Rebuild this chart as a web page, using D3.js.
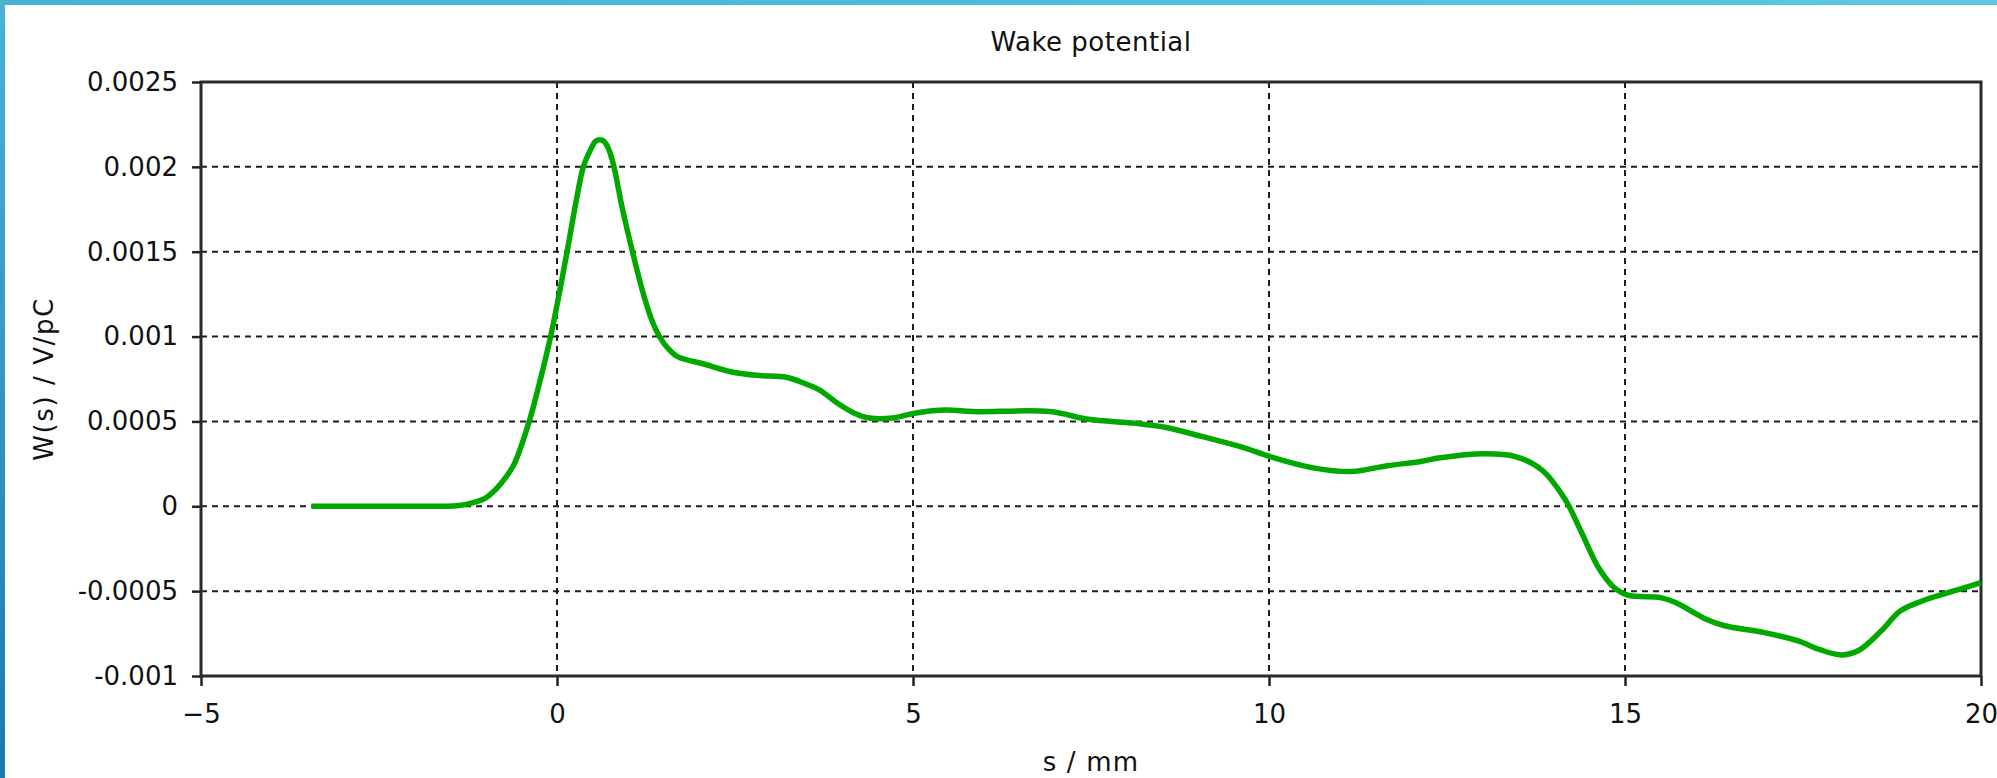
<!DOCTYPE html>
<html>
<head>
<meta charset="utf-8">
<script src="https://cdn.jsdelivr.net/npm/d3@7"></script>
<style>
  html, body { margin: 0; padding: 0; background: #fff; overflow: hidden; }
  text { font-family: "DejaVu Sans", Verdana, sans-serif; fill: #111; }
</style>
</head>
<body>
<script>
// wake potential samples
const sValues = [-3.45, -3.0, -2.5, -2.0, -1.6, -1.4, -1.19, -1.0, -0.86, -0.72, -0.6, -0.39, -0.25, -0.1, 0.03,
    0.15, 0.27, 0.37, 0.47, 0.54, 0.6, 0.66, 0.73, 0.8, 0.92, 1.06, 1.2, 1.32, 1.44, 1.56, 1.7, 2.05, 2.47,
    2.85, 3.22, 3.5, 3.69, 3.93, 4.17, 4.39, 4.71, 5.04, 5.47, 5.84, 6.92, 7.46, 8.1, 8.54, 9.07, 9.61,
    10.04, 10.64, 11.17, 11.66, 12.13, 12.38, 13.03, 13.46, 13.83, 14.16, 14.37, 14.64, 14.85, 15.04, 15.5,
    15.71, 16.14, 16.4, 16.94, 17.42, 17.74, 18.04, 18.28, 18.6, 18.87, 19.24, 19.62, 20.0];
const wValues = [0, 0, 0, 0, 0, 0.000003, 0.00002, 0.00005, 0.0001, 0.00017, 0.00025, 0.0005, 0.00072, 0.00098,
    0.00125, 0.00152, 0.0018, 0.002, 0.0021, 0.00215, 0.00216, 0.00215, 0.0021, 0.002, 0.00175, 0.0015,
    0.00127, 0.00111, 0.001, 0.00093, 0.00088, 0.00084, 0.00079, 0.00077, 0.00076, 0.00072, 0.000685,
    0.00061, 0.00055, 0.00052, 0.00052, 0.00055, 0.000567, 0.000558, 0.000558, 0.000513, 0.00049, 0.000466,
    0.00041, 0.00035, 0.00029, 0.000225, 0.000205, 0.000239, 0.000264, 0.000284, 0.000309, 0.000293,
    0.000215, 0.00004, -0.000137, -0.00037, -0.00048, -0.000524, -0.000538, -0.000567, -0.000665,
    -0.000704, -0.000743, -0.000792, -0.000845, -0.000876, -0.00085, -0.000734, -0.000616, -0.000548,
    -0.000499, -0.00045];

const xTicks = [-5, 0, 5, 10, 15, 20];
const yTicks = [-0.001, -0.0005, 0, 0.0005, 0.001, 0.0015, 0.002, 0.0025];
const yTickLabels = ["-0.001", "-0.0005", "0", "0.0005", "0.001", "0.0015", "0.002", "0.0025"];

const titleText = "Wake potential";
const xLabel = "s / mm";
const yLabel = "W(s) / V/pC";

const options = {
    width: 1997,
    height: 778,
    left: 201,
    right: 1981,
    top: 82,
    bottom: 676,
}

const points = sValues.map((s, i) => ({ s: s, w: wValues[i] }));

let svg = d3.select("body")
    .append("svg")
    .attr("width", options.width)
    .attr("height", options.height)

// window frame strips
let defs = svg.append("defs")
let gTop = defs.append("linearGradient").attr("id", "topBar")
gTop.append("stop").attr("offset", "0%").attr("stop-color", "#46b0d6")
gTop.append("stop").attr("offset", "100%").attr("stop-color", "#5cc6e4")
let gLeft = defs.append("linearGradient").attr("id", "leftBar")
    .attr("x1", 0).attr("y1", 0).attr("x2", 0).attr("y2", 1)
gLeft.append("stop").attr("offset", "0%").attr("stop-color", "#48b2d8")
gLeft.append("stop").attr("offset", "100%").attr("stop-color", "#1f78b0")

svg.append("rect").attr("x", 0).attr("y", 0).attr("width", options.width).attr("height", 5)
    .style("fill", "url(#topBar)")
svg.append("rect").attr("x", 0).attr("y", 0).attr("width", 5).attr("height", options.height)
    .style("fill", "url(#leftBar)")

const x = d3.scaleLinear().domain([-5, 20]).range([options.left, options.right]);
const y = d3.scaleLinear().domain([-0.001, 0.0025]).range([options.bottom, options.top]);

// grid
let grid = svg.append("g")
grid.selectAll(".vgrid")
    .data(xTicks.slice(1, -1))
    .enter()
    .append("line")
    .attr("x1", d => x(d)).attr("x2", d => x(d))
    .attr("y1", options.top).attr("y2", options.bottom)
    .style("stroke", "#1e1e1e").style("stroke-width", 2).style("stroke-dasharray", "6,5")
grid.selectAll(".hgrid")
    .data(yTicks.slice(1, -1))
    .enter()
    .append("line")
    .attr("x1", options.left).attr("x2", options.right)
    .attr("y1", d => y(d)).attr("y2", d => y(d))
    .style("stroke", "#1e1e1e").style("stroke-width", 2).style("stroke-dasharray", "6,5")

// axes
let xAxis = svg.append("g")
    .attr("transform", `translate(0,${options.bottom})`)
    .call(d3.axisBottom(x).tickValues(xTicks).tickSize(10).tickPadding(19).tickFormat(d3.format("d")))
let yAxis = svg.append("g")
    .attr("transform", `translate(${options.left},0)`)
    .call(d3.axisLeft(y).tickValues(yTicks).tickSize(9).tickPadding(14).tickFormat((d, i) => yTickLabels[i]))

;[xAxis, yAxis].forEach(a => {
    a.select(".domain").remove()
    a.selectAll(".tick line").style("stroke", "#222").style("stroke-width", 2.5)
    a.selectAll(".tick text").style("font-size", "26px").style("fill", "#111")
        .style("font-family", '"DejaVu Sans", Verdana, sans-serif')
})

// plot frame
svg.append("rect")
    .attr("x", options.left).attr("y", options.top)
    .attr("width", options.right - options.left)
    .attr("height", options.bottom - options.top)
    .style("fill", "none").style("stroke", "#2a2a2a").style("stroke-width", 3)

// curve
const line = d3.line()
    .x(d => x(d.s))
    .y(d => y(d.w))
    .curve(d3.curveCatmullRom.alpha(0.5));

svg.append("path")
    .datum(points)
    .attr("d", line)
    .style("fill", "none")
    .style("stroke", "#00a800")
    .style("stroke-width", 5.5)
    .style("stroke-linejoin", "round")

// labels
svg.append("text")
    .attr("x", (options.left + options.right) / 2)
    .attr("y", 51)
    .attr("text-anchor", "middle")
    .style("font-size", "26px")
    .style("letter-spacing", "0.5px")
    .text(titleText)

svg.append("text")
    .attr("x", (options.left + options.right) / 2)
    .attr("y", 771)
    .attr("text-anchor", "middle")
    .style("font-size", "26px")
    .style("letter-spacing", "1.2px")
    .text(xLabel)

svg.append("text")
    .attr("transform", `translate(53,${(options.top + options.bottom) / 2}) rotate(-90)`)
    .attr("text-anchor", "middle")
    .style("font-size", "26px")
    .style("letter-spacing", "1.6px")
    .text(yLabel)
</script>
</body>
</html>
